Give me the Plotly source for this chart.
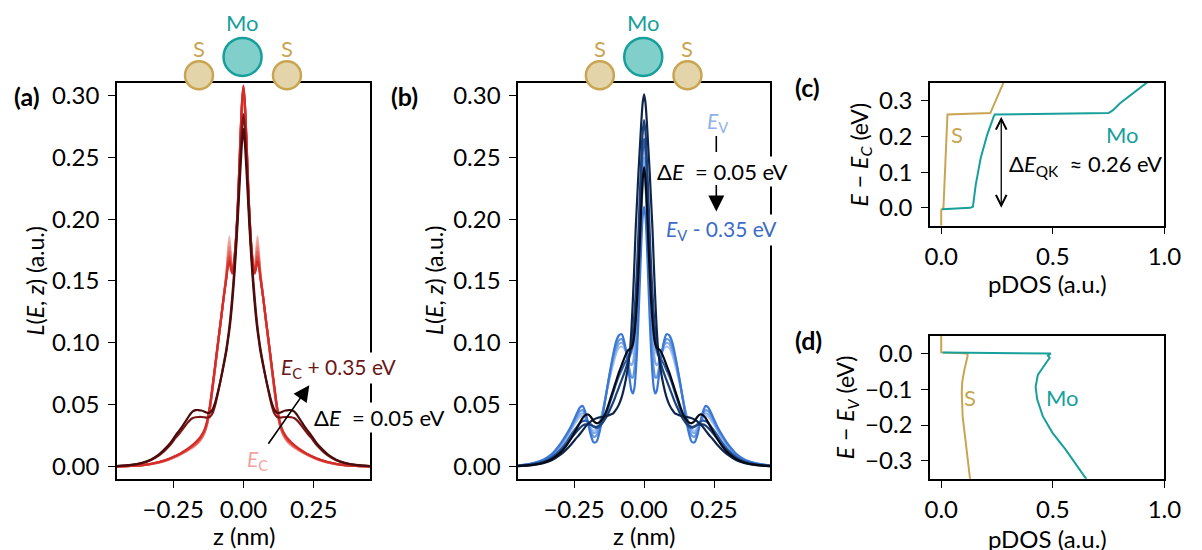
import plotly.graph_objects as go

# ---------------- data ----------------
# z grid (nm), half profile z >= 0 ; the L(E,z) profiles are symmetric in z
Z_HALF = [0, 0.005, 0.01, 0.015, 0.02, 0.025, 0.03, 0.035, 0.04, 0.045, 0.05, 0.055, 0.06,
          0.07, 0.08, 0.09, 0.10, 0.11, 0.12, 0.13, 0.14, 0.15, 0.16, 0.17, 0.18, 0.19, 0.20,
          0.21, 0.22, 0.23, 0.24, 0.26, 0.28, 0.30, 0.33, 0.36, 0.40, 0.45]

# (a) conduction band, E_C ... E_C + 0.35 eV
a_labels = ["E_C", "E_C+0.05", "E_C+0.10", "E_C+0.15", "E_C+0.20", "E_C+0.25", "E_C+0.30", "E_C+0.35"]
a0 = [0.300, 0.288, 0.263, 0.233, 0.206, 0.184, 0.169, 0.161, 0.159, 0.172, 0.186, 0.174, 0.158,
      0.138, 0.118, 0.099, 0.080, 0.062, 0.045, 0.033, 0.026, 0.022, 0.019, 0.017, 0.0152, 0.0138, 0.0125,
      0.0112, 0.0100, 0.0089, 0.0078, 0.0059, 0.0043, 0.0031, 0.0018, 0.0009, 0.0004, 0.0001]
a1 = [0.302, 0.290, 0.265, 0.235, 0.207, 0.185, 0.170, 0.161, 0.158, 0.170, 0.182, 0.171, 0.157,
      0.138, 0.118, 0.100, 0.081, 0.062, 0.045, 0.033, 0.027, 0.022, 0.0195, 0.0175, 0.0157, 0.0142, 0.0128,
      0.0115, 0.0103, 0.0091, 0.0080, 0.0060, 0.0044, 0.0032, 0.0019, 0.0010, 0.0004, 0.0001]
a2 = [0.304, 0.291, 0.266, 0.236, 0.208, 0.186, 0.171, 0.161, 0.158, 0.168, 0.178, 0.169, 0.156,
      0.137, 0.118, 0.100, 0.081, 0.063, 0.046, 0.034, 0.027, 0.023, 0.020, 0.018, 0.0161, 0.0146, 0.0131,
      0.0118, 0.0105, 0.0093, 0.0082, 0.0062, 0.0046, 0.0033, 0.0019, 0.0010, 0.0004, 0.0001]
a3 = [0.306, 0.293, 0.268, 0.238, 0.210, 0.188, 0.172, 0.162, 0.158, 0.166, 0.174, 0.167, 0.155,
      0.137, 0.118, 0.100, 0.082, 0.063, 0.046, 0.034, 0.027, 0.023, 0.020, 0.018, 0.0163, 0.0148, 0.0133,
      0.0119, 0.0106, 0.0094, 0.0083, 0.0063, 0.0047, 0.0034, 0.0020, 0.0010, 0.0004, 0.0001]
a4 = [0.307, 0.294, 0.269, 0.239, 0.211, 0.189, 0.173, 0.162, 0.157, 0.163, 0.170, 0.164, 0.154,
      0.137, 0.119, 0.101, 0.082, 0.064, 0.047, 0.035, 0.028, 0.024, 0.021, 0.019, 0.0170, 0.0153, 0.0137,
      0.0122, 0.0108, 0.0096, 0.0085, 0.0064, 0.0048, 0.0035, 0.0020, 0.0011, 0.0004, 0.0001]
a5 = [0.308, 0.295, 0.270, 0.240, 0.212, 0.190, 0.174, 0.162, 0.156, 0.160, 0.166, 0.162, 0.153,
      0.137, 0.119, 0.101, 0.083, 0.065, 0.048, 0.036, 0.029, 0.025, 0.022, 0.0195, 0.0175, 0.0157, 0.0140,
      0.0125, 0.0111, 0.0098, 0.0087, 0.0066, 0.0049, 0.0036, 0.0021, 0.0011, 0.0004, 0.0001]
a6 = [0.285, 0.274, 0.254, 0.231, 0.208, 0.187, 0.168, 0.151, 0.137, 0.124, 0.113, 0.104, 0.096,
      0.083, 0.071, 0.060, 0.050, 0.043, 0.040, 0.0395, 0.0398, 0.0400, 0.0400, 0.0398, 0.0392, 0.0375, 0.0350,
      0.0320, 0.0290, 0.0260, 0.0235, 0.0175, 0.0128, 0.0090, 0.0050, 0.0027, 0.0011, 0.0003]
a7 = [0.273, 0.262, 0.243, 0.222, 0.200, 0.180, 0.162, 0.146, 0.132, 0.120, 0.110, 0.102, 0.094,
      0.082, 0.071, 0.061, 0.052, 0.046, 0.0435, 0.0435, 0.0445, 0.0452, 0.0456, 0.0455, 0.0445, 0.0420, 0.0385,
      0.0350, 0.0315, 0.0285, 0.0255, 0.0190, 0.0140, 0.0098, 0.0055, 0.0030, 0.0012, 0.0003]
A_SERIES = [a0, a1, a2, a3, a4, a5, a6, a7]

# (b) valence band, E_V ... E_V - 0.35 eV
b0 = [0.262, 0.253, 0.230, 0.200, 0.168, 0.140, 0.119, 0.104, 0.095, 0.091, 0.090, 0.091, 0.092,
      0.095, 0.097, 0.096, 0.091, 0.083, 0.074, 0.064, 0.053, 0.043, 0.035, 0.030, 0.029, 0.031, 0.035,
      0.039, 0.041, 0.040, 0.037, 0.030, 0.022, 0.016, 0.0088, 0.0046, 0.0021, 0.0006]
b1 = [0.250, 0.241, 0.218, 0.187, 0.155, 0.127, 0.106, 0.092, 0.084, 0.082, 0.083, 0.086, 0.090,
      0.097, 0.100, 0.099, 0.094, 0.086, 0.076, 0.065, 0.053, 0.042, 0.033, 0.028, 0.027, 0.030, 0.035,
      0.040, 0.043, 0.042, 0.039, 0.031, 0.023, 0.0165, 0.0090, 0.0048, 0.0022, 0.0006]
b2 = [0.235, 0.226, 0.203, 0.172, 0.140, 0.112, 0.091, 0.078, 0.072, 0.072, 0.076, 0.082, 0.088,
      0.098, 0.103, 0.102, 0.097, 0.089, 0.078, 0.066, 0.053, 0.041, 0.031, 0.025, 0.024, 0.028, 0.035,
      0.042, 0.0455, 0.0445, 0.041, 0.032, 0.024, 0.017, 0.0095, 0.0050, 0.0023, 0.0006]
b3 = [0.210, 0.202, 0.180, 0.150, 0.120, 0.094, 0.075, 0.063, 0.059, 0.061, 0.068, 0.077, 0.086,
      0.100, 0.107, 0.106, 0.101, 0.091, 0.079, 0.066, 0.052, 0.038, 0.027, 0.020, 0.0195, 0.025, 0.035,
      0.044, 0.049, 0.0475, 0.043, 0.033, 0.025, 0.018, 0.010, 0.0055, 0.0025, 0.0007]
b4 = [0.265, 0.255, 0.232, 0.203, 0.173, 0.146, 0.125, 0.110, 0.100, 0.094, 0.091, 0.089, 0.087,
      0.083, 0.078, 0.073, 0.067, 0.060, 0.053, 0.046, 0.040, 0.035, 0.032, 0.031, 0.032, 0.034, 0.036,
      0.037, 0.0365, 0.035, 0.032, 0.026, 0.019, 0.0135, 0.0075, 0.0040, 0.0017, 0.0005]
b5 = [0.280, 0.270, 0.248, 0.220, 0.190, 0.162, 0.140, 0.122, 0.109, 0.099, 0.092, 0.087, 0.083,
      0.076, 0.070, 0.064, 0.058, 0.052, 0.047, 0.042, 0.038, 0.035, 0.033, 0.032, 0.0325, 0.0335, 0.034,
      0.034, 0.033, 0.031, 0.0285, 0.023, 0.017, 0.012, 0.0067, 0.0035, 0.0015, 0.0004]
b6 = [0.301, 0.294, 0.278, 0.258, 0.238, 0.215, 0.192, 0.162, 0.135, 0.112, 0.095, 0.085, 0.077,
      0.065, 0.056, 0.050, 0.046, 0.043, 0.042, 0.041, 0.0405, 0.040, 0.0397, 0.039, 0.038, 0.0365, 0.0345,
      0.032, 0.029, 0.026, 0.0235, 0.018, 0.0132, 0.0093, 0.0050, 0.0026, 0.0010, 0.0003]
b7 = [0.242, 0.232, 0.210, 0.183, 0.157, 0.135, 0.118, 0.106, 0.099, 0.096, 0.095, 0.0945, 0.093,
      0.088, 0.082, 0.076, 0.069, 0.062, 0.055, 0.048, 0.042, 0.038, 0.0355, 0.035, 0.0365, 0.040, 0.042,
      0.0415, 0.039, 0.035, 0.031, 0.023, 0.016, 0.011, 0.0058, 0.0030, 0.0012, 0.0003]
B_SERIES = [b0, b1, b2, b3, b4, b5, b6, b7]

# (c) pDOS near conduction band edge
c_S_pdos = [0.0, 0.0, 0.010, 0.028, 0.220, 0.285]
c_S_E = [-0.05, -0.005, 0.0, 0.262, 0.266, 0.36]
c_Mo_pdos = [0.004, 0.130, 0.142, 0.155, 0.177, 0.206, 0.235, 0.240, 0.750, 0.770, 0.800, 0.860, 0.920, 0.960]
c_Mo_E = [-0.004, 0.0, 0.003, 0.066, 0.140, 0.205, 0.256, 0.262, 0.266, 0.274, 0.293, 0.321, 0.349, 0.37]

# (d) pDOS near valence band edge
d_S_pdos = [0.0, 0.0, 0.118, 0.118, 0.104, 0.094, 0.092, 0.096, 0.110, 0.131]
d_S_E = [0.06, 0.003, 0.0, -0.008, -0.045, -0.080, -0.110, -0.175, -0.249, -0.36]
d_Mo_pdos = [0.006, 0.400, 0.491, 0.478, 0.486, 0.468, 0.448, 0.433, 0.423, 0.430, 0.455, 0.498, 0.556, 0.645, 0.655]
d_Mo_E = [0.003, 0.002, 0.0, -0.006, -0.012, -0.028, -0.045, -0.060, -0.093, -0.128, -0.175, -0.221, -0.267, -0.345, -0.355]

A_COLORS = ["#f6b4ae", "#f19a93", "#eb7f78", "#e4625c", "#dd463f", "#d42c29", "#7c1616", "#4a0c0c"]
B_COLORS = ["#a9c4ee", "#86ace6", "#6597dd", "#3b77d6", "#2a5cab", "#1c4079", "#0f264c", "#060b16"]
S_COL = "#c9a552"
S_FILL = "#e3d4a9"
MO_COL = "#17a09b"
MO_FILL = "#80cfcb"

FONT = "Lato"
FS_TICK = 24
FS_TITLE = 24
FS_ANN = 22

# ---------------- figure ----------------
W, H = 1202, 550
def px(x):
    return x / W
def py(y):
    return 1 - y / H

z_full = [-z for z in reversed(Z_HALF[1:])] + Z_HALF
def full(v):
    return list(reversed(v[1:])) + v

fig = go.Figure()
for v, c in zip(A_SERIES, A_COLORS):
    fig.add_trace(go.Scatter(x=z_full, y=full(v), mode="lines", line=dict(color=c, width=2.2, shape="spline", smoothing=0.8),
                             xaxis="x", yaxis="y", showlegend=False, hoverinfo="skip"))
for v, c in zip(B_SERIES, B_COLORS):
    fig.add_trace(go.Scatter(x=z_full, y=full(v), mode="lines", line=dict(color=c, width=2.2, shape="spline", smoothing=0.8),
                             xaxis="x2", yaxis="y2", showlegend=False, hoverinfo="skip"))
fig.add_trace(go.Scatter(x=c_S_pdos, y=c_S_E, mode="lines", line=dict(color=S_COL, width=2), xaxis="x3", yaxis="y3", showlegend=False))
fig.add_trace(go.Scatter(x=c_Mo_pdos, y=c_Mo_E, mode="lines", line=dict(color=MO_COL, width=2), xaxis="x3", yaxis="y3", showlegend=False))
fig.add_trace(go.Scatter(x=d_S_pdos, y=d_S_E, mode="lines", line=dict(color=S_COL, width=2), xaxis="x4", yaxis="y4", showlegend=False))
fig.add_trace(go.Scatter(x=d_Mo_pdos, y=d_Mo_E, mode="lines", line=dict(color=MO_COL, width=2), xaxis="x4", yaxis="y4", showlegend=False))

ax_common = dict(showline=True, linecolor="black", linewidth=1.5, mirror=True, ticks="outside", ticklen=7,
                 tickwidth=1.3, tickcolor="black", showgrid=False, zeroline=False,
                 tickfont=dict(family=FONT, size=FS_TICK, color="black"))
ya = dict(ticklabelstandoff=4, **ax_common)
xa = dict(ticklabelstandoff=2, **ax_common)

dom_ab_y = [py(479.3), py(80.7)]
fig.update_layout(
    width=W, height=H, autosize=False, margin=dict(l=0, r=0, t=0, b=0), paper_bgcolor="white", plot_bgcolor="white",
    font=dict(family=FONT, size=FS_ANN, color="black"),
    xaxis=dict(domain=[px(114), px(371.7)], range=[-0.45, 0.45], tickvals=[-0.25, 0, 0.25], tickformat=".2f", anchor="y", **xa),
    yaxis=dict(domain=dom_ab_y, range=[-0.01, 0.31], tickvals=[0, 0.05, 0.10, 0.15, 0.20, 0.25, 0.30], tickformat=".2f", anchor="x", **ya),
    xaxis2=dict(domain=[px(522.7), px(779.3)], range=[-0.45, 0.45], tickvals=[-0.25, 0, 0.25], tickformat=".2f", anchor="y2", **xa),
    yaxis2=dict(domain=dom_ab_y, range=[-0.01, 0.31], tickvals=[0, 0.05, 0.10, 0.15, 0.20, 0.25, 0.30], tickformat=".2f", anchor="x2", **ya),
    xaxis3=dict(domain=[px(942.3), px(1181)], range=[-0.05, 1.0], tickvals=[0, 0.5, 1.0], tickformat=".1f", anchor="y3", **xa),
    yaxis3=dict(domain=[py(224.3), py(80.7)], range=[-0.05, 0.35], tickvals=[0, 0.1, 0.2, 0.3], tickformat=".1f", anchor="x3", **ya),
    xaxis4=dict(domain=[px(942.3), px(1181)], range=[-0.05, 1.0], tickvals=[0, 0.5, 1.0], tickformat=".1f", anchor="y4", **xa),
    yaxis4=dict(domain=[py(479.3), py(335)], range=[-0.35, 0.05], tickvals=[0, -0.1, -0.2, -0.3], tickformat=".1f", anchor="x4", **ya),
)

ann = []
def text(x, y, t, size=FS_ANN, color="black", bg=None, angle=0, bold=False):
    d = dict(x=px(x), y=py(y), xref="paper", yref="paper", text=(f"<b>{t}</b>" if bold else t), showarrow=False,
             font=dict(family=FONT, size=size, color=color), xanchor="center", yanchor="middle", textangle=angle)
    if bg:
        d["bgcolor"] = bg
        d["borderpad"] = 1
    ann.append(d)

# panel labels
text(22, 94, "(a)", size=25, bold=True)
text(407, 94, "(b)", size=25, bold=True)
text(817, 85, "(c)", size=25, bold=True)
text(818, 339, "(d)", size=25, bold=True)

# axis titles
ytitle_ab = "<i>L</i>(<i>E</i>, <i>z</i>) (a.u.)"
text(31, 280, ytitle_ab, size=23, angle=-90)
text(437, 280, ytitle_ab, size=23, angle=-90)
text(871, 152.5, "<i>E</i> − <i>E</i><sub><i>C</i></sub> (eV)", size=23, angle=-90)
text(857, 407, "<i>E</i> − <i>E</i><sub><i>V</i></sub> (eV)", size=23, angle=-90)
text(243, 536, "z (nm)", size=FS_TITLE)
text(651, 536, "z (nm)", size=FS_TITLE)
text(1062, 283, "pDOS (a.u.)", size=FS_TITLE)
text(1062, 539, "pDOS (a.u.)", size=FS_TITLE)

# (a) annotations
text(340, 368, "<i>E</i><sub>C</sub> + 0.35 eV", size=21, color="#6b1717", bg="white")
text(381, 418, "Δ<i>E</i>  = 0.05 eV", bg="white")
text(257, 460, "<i>E</i><sub>C</sub>", size=21, color="#f2a3a0")
ann.append(dict(x=0.2345, y=0.0657, xref="x", yref="y", ax=-42, ay=60, axref="pixel", ayref="pixel", text="",
                showarrow=True, arrowhead=2, arrowsize=2, arrowwidth=1.6, arrowcolor="black"))

# (b) annotations
text(726, 120, "<i>E</i><sub>V</sub>", size=21, color="#8fb2e8")
text(730, 170, "Δ<i>E</i>  = 0.05 eV", bg="white")
text(730, 229, "<i>E</i><sub>V</sub> - 0.35 eV", size=21, color="#3b6cc5", bg="white")
ann.append(dict(x=0.258, y=py(210), xref="x2", yref="paper", ax=0, ay=-28, text="",
                showarrow=True, arrowhead=2, arrowsize=2, arrowwidth=1.6, arrowcolor="black"))

# (c) annotations
text(970, 132, "S", color=S_COL)
text(1138, 132, "Mo", color=MO_COL)
text(1101, 163, "Δ<i>E</i><sub>QK</sub>  ≈ 0.26 eV")
ann.append(dict(x=0.269, y=0.0, xref="x3", yref="y3", ax=0.269, ay=0.26, axref="x3", ayref="y3", text="",
                showarrow=True, arrowhead=5, arrowside="end+start", arrowsize=1.6, arrowwidth=1.3, arrowcolor="black"))

# (d) annotations
text(983, 397, "S", color=S_COL)
text(1077, 397, "Mo", color=MO_COL)

# atoms above (a) and (b)
shapes = []
for xr in ["x", "x2"]:
    for zc, r, fc, lc in [(-0.158, 14, S_FILL, S_COL), (0.155, 14, S_FILL, S_COL), (-0.003, 19, MO_FILL, MO_COL)]:
        yc = 72.7 if r == 14 else 54.3
        shapes.append(dict(type="circle", xref=xr, yref="paper", xsizemode="pixel", ysizemode="pixel",
                           xanchor=zc, yanchor=py(yc), x0=-r, x1=r, y0=-r, y1=r,
                           fillcolor=fc, line=dict(color=lc, width=2.5), layer="above"))
    for zc, lbl, col, yy in [(-0.158, "S", S_COL, 46), (0.155, "S", S_COL, 46), (-0.003, "Mo", MO_COL, 20)]:
        ann.append(dict(x=zc, y=py(yy), xref=xr, yref="paper", text=lbl, showarrow=False,
                        font=dict(family=FONT, size=22, color=col), xanchor="center", yanchor="middle"))

# short tick line above the (b) arrow
shapes.append(dict(type="line", xref="x2", yref="paper", x0=0.258, x1=0.258, y0=py(134), y1=py(150),
                   line=dict(color="black", width=1.6)))

fig.update_layout(annotations=ann, shapes=shapes)
fig.write_html("out.html", config={"responsive": False, "displayModeBar": False},
               post_script="document.body.style.margin='0';document.body.style.overflow='hidden';")
